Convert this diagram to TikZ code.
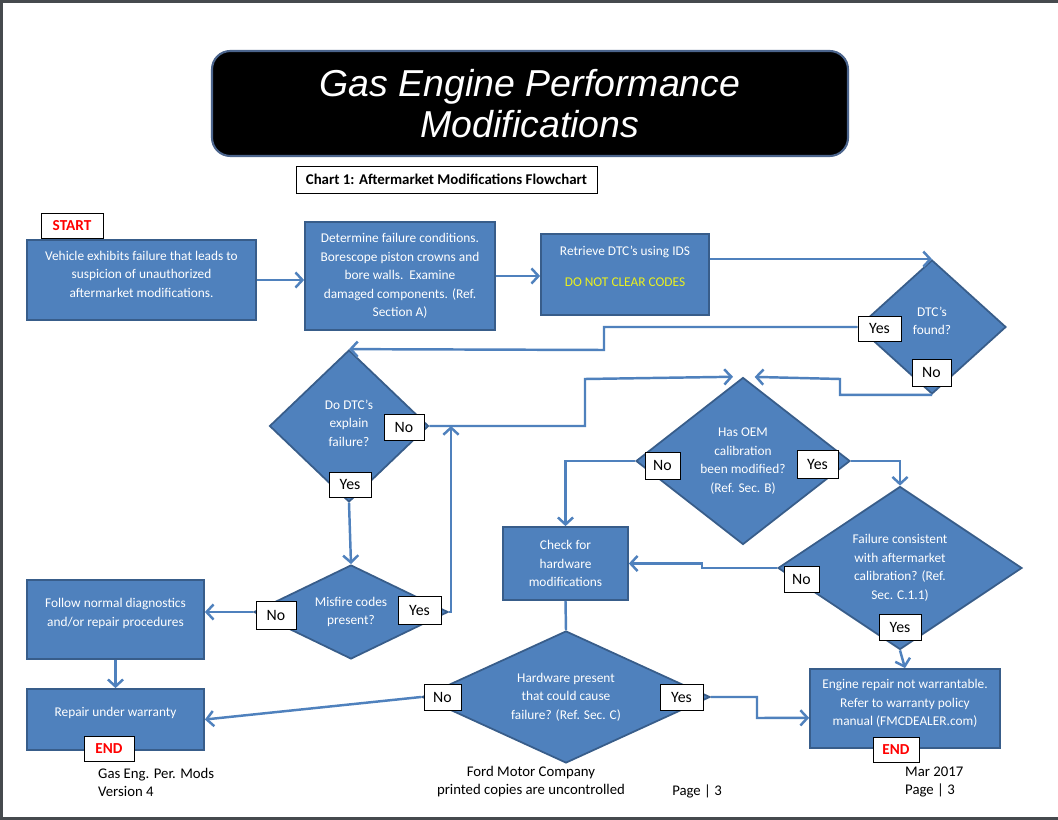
\documentclass[tikz,border=0pt]{standalone}
\usepackage{fontspec}
\setmainfont{Carlito}
\newfontfamily\titlefont{Liberation Sans}
\usepackage{tikz}
\usetikzlibrary{shapes.geometric,arrows.meta}
\definecolor{flowblue}{RGB}{79,129,189}
\definecolor{edgeblue}{RGB}{56,93,138}
\definecolor{codeyellow}{RGB}{235,240,30}
\definecolor{endred}{RGB}{255,0,0}
\definecolor{pagegray}{RGB}{70,74,78}
\definecolor{titleedge}{RGB}{75,100,140}
\newcommand{\pu}{0.03cm}

\begin{document}
\begin{tikzpicture}[x=0.03cm, y=-0.03cm,
    wh/.style 2 args={minimum width=#1*\pu, minimum height=#2*\pu},
    stepbox/.style={draw=edgeblue, line width=1.5pt, fill=flowblue, text=white, align=center, inner sep=0pt, font=\fontsize{11.4}{15.8}\selectfont},
    decision/.style={stepbox, diamond, aspect=1.5},
    tag/.style={draw=black, line width=0.6pt, fill=white, inner sep=0pt, font=\fontsize{13.5}{15}\selectfont},
    endtag/.style={tag, text=endred, font=\fontsize{13}{14}\selectfont\bfseries},
    flow/.style={draw=flowblue, line width=2.1pt, -{Straight Barb[length=6pt,width=13pt]}},
    foot/.style={align=left, inner sep=0pt, font=\fontsize{12.6}{15.3}\selectfont}]
    \useasboundingbox (0,0) rectangle (1058,820);
    % page
    \fill[pagegray] (0,0) rectangle (1058,820);
    \fill[white] (3,3) rectangle (1058,817);

    % Heading
    \node[draw=titleedge, line width=1.8pt, fill=black, rounded corners=0.55cm, wh={636}{105}, text=white, align=center, font=\titlefont\itshape\fontsize{32}{35}\selectfont] (title) at (530,103.5) {Gas Engine Performance\\Modifications};
    \node[draw=black, line width=0.6pt, wh={301}{27}, inner sep=0pt, font=\fontsize{12.7}{14}\selectfont\bfseries] (chart) at (446.5,179.5) {Chart 1: Aftermarket Modifications Flowchart};

    % Top row
    \node[stepbox, wh={229}{80}] (vehicle) at (141.5,280) {Vehicle exhibits failure that leads to\\suspicion of unauthorized\\aftermarket modifications.\\[-5.6pt]};
    \node[stepbox, wh={190}{108}] (determine) at (400,276) {Determine failure conditions.\\Borescope piston crowns and\\bore walls.\ \ Examine\\damaged components. (Ref.\\Section A)};
    \node[stepbox, wh={168}{81}] (retrieve) at (625,274.5) {Retrieve DTC's using IDS\\[10.7pt]\textcolor{codeyellow}{DO NOT CLEAR CODES}\\[-2.1pt]};
    \node[decision, wh={148}{134}] (dtcfound) at (932,327) {DTC's\\found?\\[-5.6pt]};

    % Middle
    \node[decision, wh={159}{152}] (explain) at (349,426) {Do DTC's\\explain\\failure?\\[-10.7pt]};
    \node[decision, wh={214}{167}] (oemcal) at (743,461) {Has OEM\\calibration\\been modified?\\(Ref. Sec. B)};
    \node[decision, wh={244}{163}] (consistent) at (900,568) {Failure consistent\\with aftermarket\\calibration? (Ref.\\Sec. C.1.1)};
    \node[stepbox, wh={125}{73}] (checkhw) at (565.5,563.5) {Check for\\hardware\\modifications};
    \node[decision, aspect=2, wh={194}{94}] (misfire) at (351,612) {Misfire codes\\present?};
    \node[stepbox, wh={177}{79}] (follow) at (115.5,619.5) {Follow normal diagnostics\\and/or repair procedures\\[-3.9pt]};

    % Bottom row
    \node[stepbox, wh={177}{61}] (repair) at (115.5,719.5) {Repair under warranty\\[-3pt]};
    \node[decision, aspect=2, wh={288}{132}] (hwpresent) at (566,697) {Hardware present\\that could cause\\failure? (Ref. Sec. C)};
    \node[stepbox, wh={190}{79}] (engine) at (905,708.5) {Engine repair not warrantable.\\Refer to warranty policy\\manual (FMCDEALER.com)\\[-5.6pt]};

    % Connectors
    \draw[flow] (vehicle.east) -- (vehicle.east -| determine.west);
    \draw[flow] (determine.east) -- (determine.east -| retrieve.west);
    \draw[flow] (retrieve.east |- dtcfound.north) -- (dtcfound.north);
    \draw[flow] (dtcfound.west) -| (604,350) -- (explain.north);
    \draw[flow, shorten >=0.35cm] (dtcfound.south) -| (840,379) -- (oemcal.north);
    \draw[flow, shorten >=0.3cm] (explain.east) -| (585,379) -- (oemcal.north);
    \coordinate (merge) at (451,426);
    \draw[flow] (explain.south) -- (misfire.north);
    \draw[flow] (misfire.east) -| (merge);
    \draw[flow] (misfire.west) -- (misfire.west -| follow.east);
    \draw[flow] (follow.south) -- (repair.north);
    \draw[flow] (oemcal.west) -| (checkhw.north);
    \draw[flow] (oemcal.east) -| (consistent.north);
    \draw[flow] (consistent.west) -| (702,563.5) -- (checkhw.east);
    \draw[flow] (consistent.south) -- (engine.north);
    \draw[flow, -] (checkhw.south) -- (hwpresent.north);
    \draw[flow] (hwpresent.west) -- (repair.east);
    \coordinate (enginein) at ([yshift=-0.28cm]engine.west);
    \draw[flow] (hwpresent.east) -| (757,718) -- (enginein);

    % Yes / No tags
    \node[tag, wh={43}{25}] (found-yes) at (879.5,328.5) {Yes};
    \node[tag, wh={39}{27}] (found-no) at (931.5,372.5) {No};
    \node[tag, wh={40}{26}] (explain-no) at (404,427) {No};
    \node[tag, wh={42}{25}] (explain-yes) at (350,484.5) {Yes};
    \node[tag, wh={35}{27}] (oem-no) at (662.5,465.5) {No};
    \node[tag, wh={41}{28}] (oem-yes) at (817.5,464) {Yes};
    \node[tag, wh={35}{26}] (cons-no) at (801.5,579) {No};
    \node[tag, wh={42}{26}] (cons-yes) at (900,627) {Yes};
    \node[tag, wh={37}{26}] (hw-no) at (442.5,697) {No};
    \node[tag, wh={43}{26}] (hw-yes) at (681.5,697) {Yes};
    \node[tag, wh={40}{28}] (misfire-no) at (276,615) {No};
    \node[tag, wh={43}{28}] (misfire-yes) at (419.5,610) {Yes};

    % Start / end
    \node[endtag, wh={62}{25}] (start) at (72,225.5) {START};
    \node[endtag, wh={50}{25}] (end-repair) at (109,748.5) {END};
    \node[endtag, wh={46}{25}] (end-engine) at (896,749.5) {END};

    % Footer
    \node[foot, anchor=west] (foot-left) at (98,782) {Gas Eng. Per. Mods\\Version 4};
    \node[foot, align=center] (foot-mid) at (531,782) {Ford Motor Company\\printed copies are uncontrolled};
    \node[foot] (foot-page) at (697,791) {Page | 3};
    \node[foot, anchor=west] (foot-right) at (905,782) {Mar 2017\\Page | 3};
\end{tikzpicture}
\end{document}
